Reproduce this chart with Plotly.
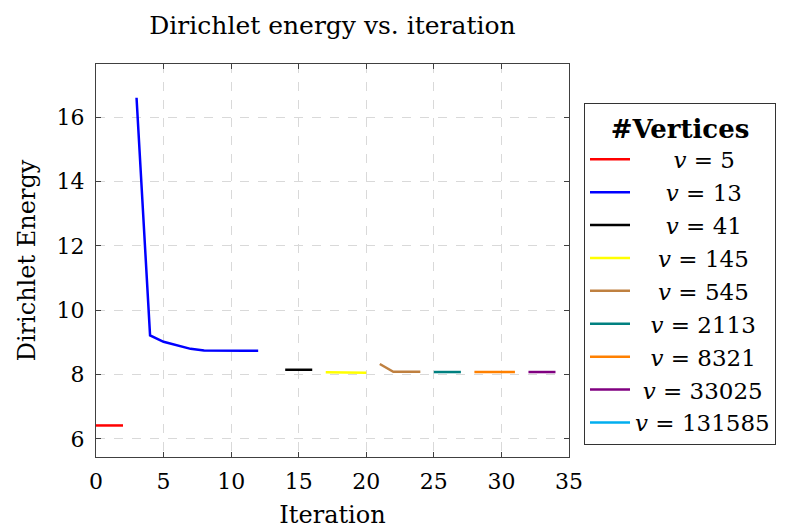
import plotly.graph_objects as go

# Data
labels = ["5", "13", "41", "145", "545", "2113", "8321", "33025", "131585"]
colors = ["#ff0000", "#0000ff", "#000000", "#ffff00", "#bf8040",
          "#008080", "#ff8000", "#800080", "#00aeef"]

iter_v5 = [0, 1, 2]
energy_v5 = [6.42, 6.42, 6.42]
iter_v13 = [3, 4, 5, 6, 7, 8, 9, 10, 11, 12]
energy_v13 = [16.6, 9.22, 9.02, 8.92, 8.8, 8.75, 8.74, 8.74, 8.74, 8.74]
iter_v41 = [14, 15, 16]
energy_v41 = [8.15, 8.15, 8.15]
iter_v145 = [17, 18, 19, 20]
energy_v145 = [8.07, 8.07, 8.06, 8.06]
iter_v545 = [21, 22, 23, 24]
energy_v545 = [8.33, 8.09, 8.09, 8.09]
iter_v2113 = [25, 26, 27]
energy_v2113 = [8.08, 8.08, 8.08]
iter_v8321 = [28, 29, 30, 31]
energy_v8321 = [8.08, 8.08, 8.08, 8.08]
iter_v33025 = [32, 33, 34]
energy_v33025 = [8.08, 8.08, 8.08]
iter_v131585 = [None]
energy_v131585 = [None]

xs = [iter_v5, iter_v13, iter_v41, iter_v145, iter_v545, iter_v2113,
      iter_v8321, iter_v33025, iter_v131585]
ys = [energy_v5, energy_v13, energy_v41, energy_v145, energy_v545,
      energy_v2113, energy_v8321, energy_v33025, energy_v131585]

x_ticks = [0, 5, 10, 15, 20, 25, 30, 35]
y_ticks = [6, 8, 10, 12, 14, 16]

FONT = "DejaVu Serif"

def legend_name(lbl):
    pad = "\u2006" * (2 * (6 - len(lbl)))
    return pad + "<i>v</i> = " + lbl

fig = go.Figure()
for x, y, lbl, c in zip(xs, ys, labels, colors):
    fig.add_trace(go.Scatter(x=x, y=y, mode="lines", name=legend_name(lbl),
                             line=dict(color=c, width=2.5), showlegend=True))

axis_common = dict(
    showline=True, linecolor="#404040", linewidth=1, mirror="allticks",
    ticks="inside", ticklen=5, tickcolor="#404040",
    showgrid=True, gridcolor="#d9d9d9", griddash="dash", gridwidth=1,
    zeroline=False, automargin=False,
    tickfont=dict(family=FONT, size=22, color="black"),
)

fig.update_layout(
    width=785, height=529,
    margin=dict(l=96, r=216, t=64, b=72, autoexpand=False),
    paper_bgcolor="white", plot_bgcolor="white",
    font=dict(family=FONT, color="black"),
    title=dict(text="Dirichlet energy vs. iteration", x=(96 + 473 / 2) / 785,
               xanchor="center", y=1 - 25 / 529, yanchor="middle",
               font=dict(family=FONT, size=25, color="black")),
    xaxis=dict(range=[0, 35], tickvals=x_ticks, ticklabelstandoff=5,
               title=dict(text="Iteration", font=dict(family=FONT, size=24), standoff=14),
               **axis_common),
    yaxis=dict(range=[5.44, 17.65], tickvals=y_ticks, ticklabelstandoff=6,
               title=dict(text="Dirichlet Energy", font=dict(family=FONT, size=24), standoff=14),
               **axis_common),
    legend=dict(x=(584 - 96) / 473, y=(457 - 103) / 393, xanchor="left", yanchor="top",
                bordercolor="#333333", borderwidth=1, bgcolor="white",
                font=dict(family=FONT, size=23, color="black"),
                title=dict(text="<b>#Vertices</b>", side="top center",
                           font=dict(family=FONT, size=26)),
                itemwidth=40, tracegroupgap=0),
)

fig.write_html("out.html", config={"displayModeBar": False},
               post_script="document.body.style.margin='0';")
